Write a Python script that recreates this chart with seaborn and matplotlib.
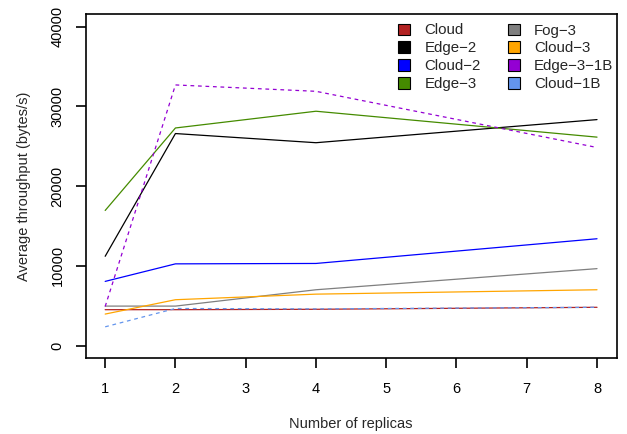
import matplotlib
matplotlib.use("Agg")
import matplotlib.pyplot as plt
from matplotlib.patches import Patch
import pandas as pd
import seaborn as sns

# Number of replicas
replicas = [1, 2, 4, 8]

# Average throughput (bytes/s) per configuration
cloud = [4500, 4500, 4550, 4800]
edge_2 = [11200, 26600, 25450, 28350]
cloud_2 = [8050, 10250, 10300, 13400]
edge_3 = [16950, 27300, 29400, 26150]
fog_3 = [4950, 4950, 7000, 9650]
cloud_3 = [3950, 5750, 6450, 7000]
edge_3_1b = [4900, 32700, 31900, 24850]
cloud_1b = [2350, 4650, 4600, 4800]

series_names = ["Cloud", "Edge\u22122", "Cloud\u22122", "Edge\u22123",
                "Fog\u22123", "Cloud\u22123", "Edge\u22123\u22121B", "Cloud\u22121B"]
series_values = [cloud, edge_2, cloud_2, edge_3, fog_3, cloud_3, edge_3_1b, cloud_1b]
series_colors = ["#B22222", "#000000", "#0000FF", "#458B00",
                 "#7F7F7F", "#FFA500", "#9400D3", "#6495ED"]
series_dashed = [False, False, False, False, False, False, True, True]

x_ticks = [1, 2, 3, 4, 5, 6, 7, 8]
y_ticks = [0, 10000, 20000, 30000, 40000]

rows = []
for name, vals in zip(series_names, series_values):
    for r, v in zip(replicas, vals):
        rows.append({"replicas": r, "throughput": v, "config": name})
df = pd.DataFrame(rows)

sns.set_style("white")
plt.rcParams["font.family"] = ["Liberation Sans", "DejaVu Sans"]
plt.rcParams["font.size"] = 10

fig = plt.figure(figsize=(6.27, 4.34), dpi=100)
ax = fig.add_axes([85.5 / 627, 1 - 358.3 / 434, (616.7 - 85.5) / 627, (358.3 - 14) / 434])

palette = dict(zip(series_names, series_colors))
dashes = {n: ((3, 3) if d else "") for n, d in zip(series_names, series_dashed)}
sns.lineplot(data=df, x="replicas", y="throughput", hue="config", style="config",
             palette=palette, dashes=dashes, hue_order=series_names,
             style_order=series_names, linewidth=0.9, ax=ax, legend=False)

ax.set_xlim(0.72, 8.28)
ax.set_ylim(-1600, 41600)
ax.set_xticks(x_ticks)
ax.set_xticklabels([str(t) for t in x_ticks])
ax.set_yticks(y_ticks)
ax.set_yticklabels([str(t) for t in y_ticks], rotation=90, va="center")
ax.tick_params(axis="both", direction="out", length=7, width=1.2, color="black",
               labelsize=10.5, labelcolor="black", bottom=True, left=True)
ax.tick_params(axis="x", pad=10)
ax.tick_params(axis="y", pad=8)
for s in ax.spines.values():
    s.set_color("black")
    s.set_linewidth(1.2)

ax.set_xlabel("Number of replicas", fontsize=10.5, labelpad=15)
ax.set_ylabel("Average throughput (bytes/s)", fontsize=10.5, labelpad=14)

handles = [Patch(facecolor=c, edgecolor="black", linewidth=0.8) for c in series_colors]
ax.legend(handles, series_names, ncol=2, loc="upper left",
          bbox_to_anchor=((398 - 85.5) / (616.7 - 85.5), 1 - (23.5 - 14) / (358.3 - 14)),
          frameon=False, fontsize=10.8, handlelength=0.8, handleheight=0.8,
          handletextpad=0.95, columnspacing=1.8, labelspacing=0.26, borderaxespad=0,
          borderpad=0)

fig.savefig("out.png", dpi=100)
